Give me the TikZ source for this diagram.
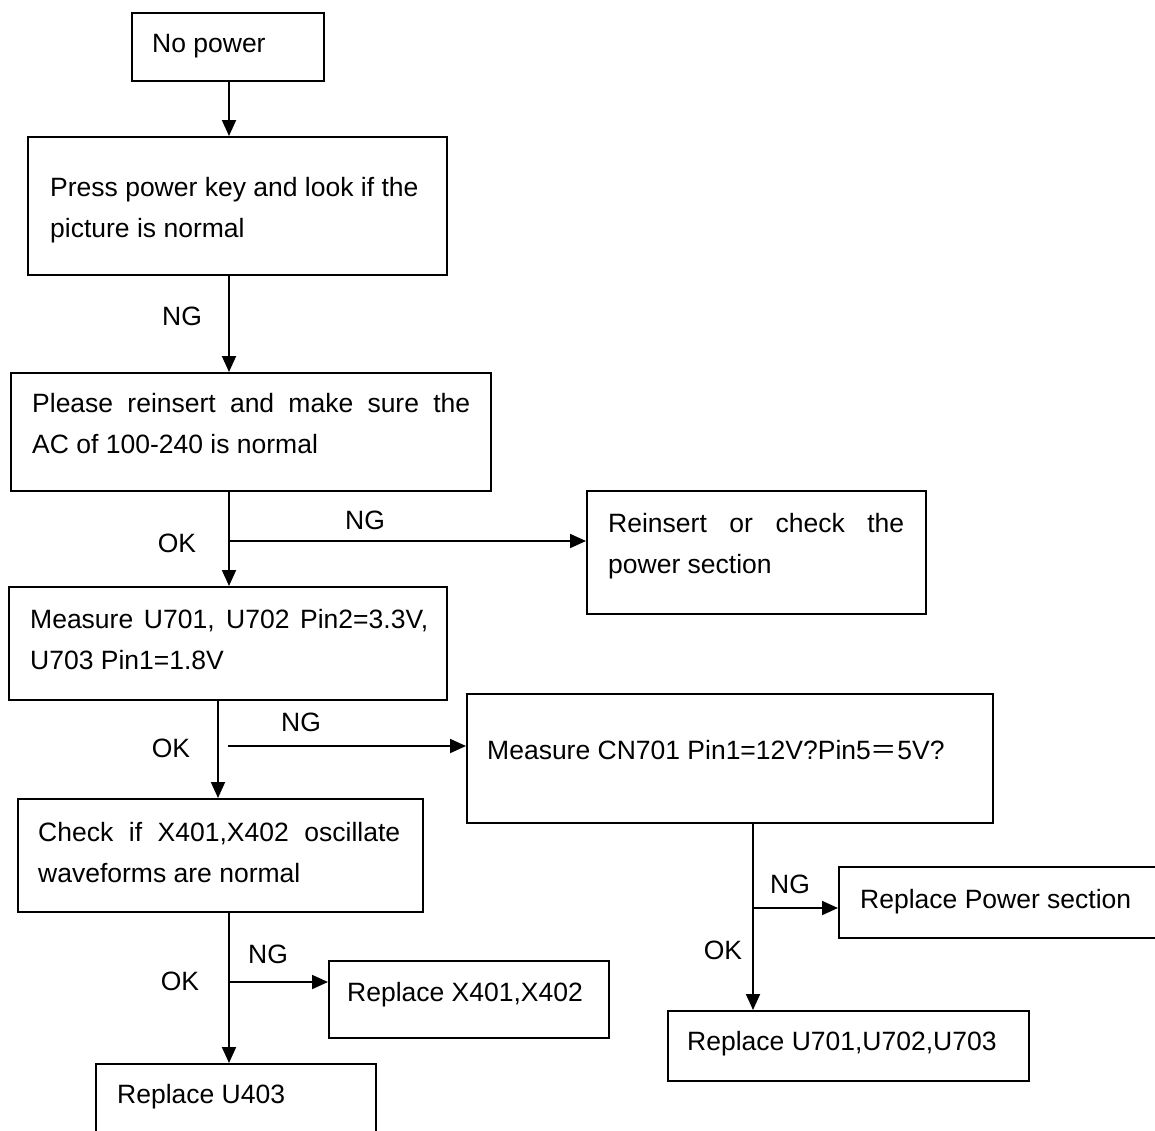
\documentclass[tikz,border=0pt]{standalone}
\usepackage{fontspec}
\setmainfont{Liberation Sans}
\newfontfamily\cjkfont{Noto Sans CJK SC}
\usetikzlibrary{arrows.meta}
\tikzset{
  box/.style={draw, line width=2pt, anchor=north west, inner sep=0pt},
  txt/.style={anchor=north west, inner sep=0pt, align=left, font=\fontsize{26.5}{41}\selectfont},
  lbl/.style={inner sep=0pt, font=\fontsize{26.5}{41}\selectfont},
  arr/.style={line width=1.9pt, -{Triangle[length=16pt,width=14pt]}}
}
\begin{document}
\begin{tikzpicture}[x=1pt,y=-1pt]
\useasboundingbox (0,0) rectangle (1155,1130);
% boxes
\node[box, minimum width=192pt, minimum height=68pt]  (b1)  at (131,12) {};
\node[box, minimum width=419pt, minimum height=138pt] (b2)  at (27,136) {};
\node[box, minimum width=480pt, minimum height=118pt] (b3)  at (10,372) {};
\node[box, minimum width=339pt, minimum height=123pt] (b4)  at (586,490) {};
\node[box, minimum width=438pt, minimum height=113pt] (b5)  at (8,586) {};
\node[box, minimum width=526pt, minimum height=129pt] (b6)  at (466,693) {};
\node[box, minimum width=405pt, minimum height=113pt] (b7)  at (17,798) {};
\node[box, minimum width=324pt, minimum height=71pt]  (b8)  at (838,866) {};
\node[box, minimum width=280pt, minimum height=77pt]  (b9)  at (328,960) {};
\node[box, minimum width=361pt, minimum height=70pt]  (b10) at (667,1010) {};
\node[box, minimum width=280pt, minimum height=77pt]  (b11) at (95,1063) {};
% texts
\node[txt] (t1)  at (152,34.5)  {No power};
\node[txt] (t2)  at (50,177.5)  {Press power key and look if the\\picture is normal};
\node[txt] (t3)  at (32,393.5)  {\makebox[438pt][s]{Please reinsert and make sure the}\\AC of 100-240 is normal};
\node[txt] (t4)  at (608,513.5) {\makebox[296pt][s]{Reinsert or check the}\\power section};
\node[txt] (t5)  at (30,609.5)  {\makebox[398pt][s]{Measure U701, U702 Pin2=3.3V,}\\U703 Pin1=1.8V};
\node[txt] (t6)  at (487,740.5) {Measure CN701 Pin1=12V?Pin5{\cjkfont ＝}5V?};
\node[txt] (t7)  at (38,822.5)  {\makebox[362pt][s]{Check if X401,X402 oscillate}\\waveforms are normal};
\node[txt] (t8)  at (860,889.5) {Replace Power section};
\node[txt] (t9)  at (347,982.5) {Replace X401,X402};
\node[txt] (t10) at (687,1031.5) {Replace U701,U702,U703};
\node[txt] (t11) at (117,1084.5) {Replace U403};
% columns and junctions
\coordinate (colA) at (229,0);
\coordinate (colB) at (218,0);
\coordinate (colC) at (753,0);
\coordinate (j1) at (229,541);
\coordinate (j2) at (228,746);
\coordinate (j3) at (753,908);
\coordinate (j4) at (229,982);
% connectors
\draw[arr] (b1.south -| colA) -- (b2.north -| colA);
\draw[arr] (b2.south -| colA) -- (b3.north -| colA);
\draw[arr] (b3.south -| colA) -- (b5.north -| colA);
\draw[arr] (j1) -- (b4.west |- j1);
\draw[arr] (b5.south -| colB) -- (b7.north -| colB);
\draw[arr] (j2) -- (b6.west |- j2);
\draw[arr] (b6.south -| colC) -- (b10.north -| colC);
\draw[arr] (j3) -- (b8.west |- j3);
\draw[arr] (b7.south -| colA) -- (b11.north -| colA);
\draw[arr] (j4) -- (b9.west |- j4);
% labels
\node[lbl] (l1) at (182,316) {NG};
\node[lbl] (l2) at (365,520) {NG};
\node[lbl] (l3) at (177,543) {OK};
\node[lbl] (l4) at (301,722) {NG};
\node[lbl] (l5) at (171,748) {OK};
\node[lbl] (l6) at (790,884) {NG};
\node[lbl] (l7) at (723,950) {OK};
\node[lbl] (l8) at (268,954) {NG};
\node[lbl] (l9) at (180,981) {OK};
\end{tikzpicture}
\end{document}
